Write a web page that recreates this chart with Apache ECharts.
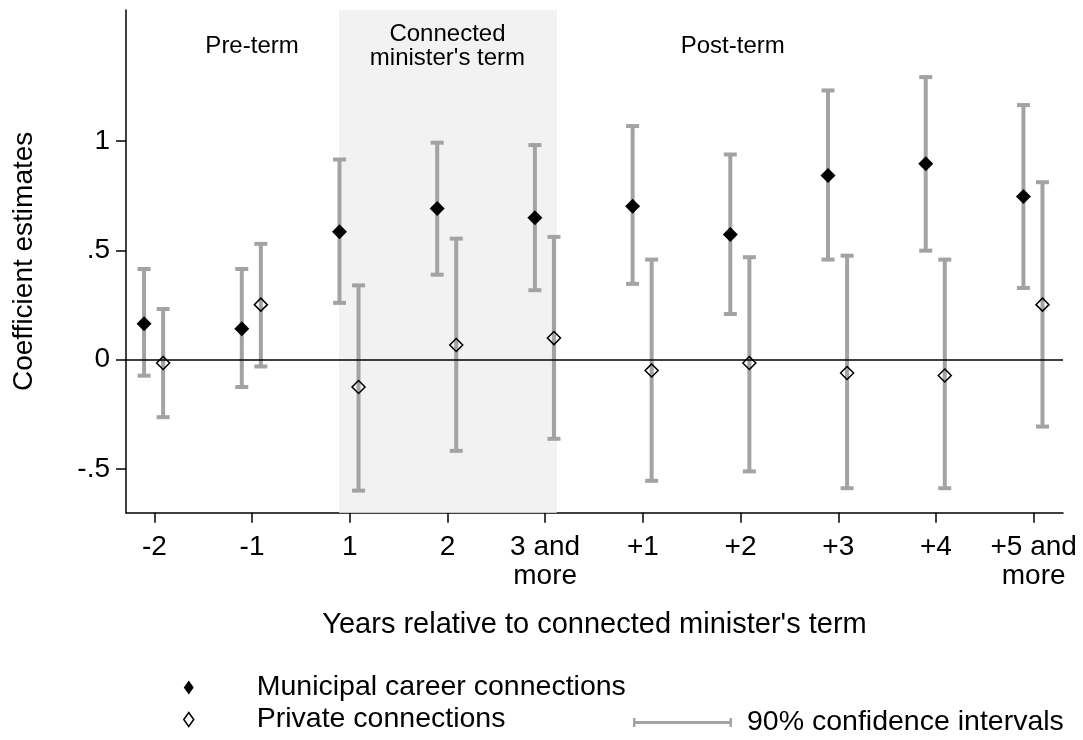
<!DOCTYPE html>
<html>
<head>
<meta charset="utf-8">
<script src="https://cdn.jsdelivr.net/npm/echarts@6/dist/echarts.min.js"></script>
<style>html,body{margin:0;padding:0;background:#fff}#c{width:1083px;height:740px}</style>
</head>
<body>
<div id="c"></div>
<script>
// ---- data ----
const categories = ['-2', '-1', '1', '2', '3 and\nmore', '+1', '+2', '+3', '+4', '+5 and\nmore'];
const municipal     = [0.165, 0.142, 0.585, 0.692, 0.649, 0.702, 0.573, 0.843, 0.896, 0.747];
const municipalLow  = [-0.073, -0.125, 0.260, 0.389, 0.318, 0.347, 0.209, 0.458, 0.499, 0.328];
const municipalHigh = [0.415, 0.415, 0.916, 0.993, 0.982, 1.069, 0.939, 1.232, 1.293, 1.165];
const privateConn     = [-0.015, 0.252, -0.125, 0.067, 0.099, -0.049, -0.015, -0.061, -0.072, 0.252];
const privateLow  = [-0.263, -0.031, -0.599, -0.417, -0.362, -0.554, -0.511, -0.588, -0.588, -0.306];
const privateHigh = [0.232, 0.530, 0.340, 0.554, 0.562, 0.458, 0.469, 0.476, 0.458, 0.812];
const yTickValues = [-0.5, 0, 0.5, 1];
const yTickLabels = ['-.5', '0', '.5', '1'];
const periodLabels = ['Pre-term', "Connected\nminister's term", 'Post-term'];
const seriesNames = ['Municipal career connections', 'Private connections', '90% confidence intervals'];
const xTitle = "Years relative to connected minister's term";
const yTitle = 'Coefficient estimates';

// ---- layout / style ----
const FONT = "'Liberation Sans', Arial, Helvetica, sans-serif";
const GRAY = '#a3a3a3';
const mOff = -0.105, pOff = 0.09;           // horizontal dodge of the two series
const termStart = 2 - 0.11, termEnd = 4 + 0.12;   // shaded "term" band
const labelY = 1.434;
const periodX = [1, 3, 5.92];

const catIdx = categories.map((_, i) => i);
const mPts = municipal.map((v, i) => [i + mOff, v]);
const pPts = privateConn.map((v, i) => [i + pOff, v]);
const mCI = municipal.map((_, i) => [i + mOff, municipalLow[i], municipalHigh[i]]);
const pCI = privateConn.map((_, i) => [i + pOff, privateLow[i], privateHigh[i]]);

function renderCI(params, api) {
  const x = api.value(0);
  const lo = api.coord([x, api.value(1)]);
  const hi = api.coord([x, api.value(2)]);
  const hw = 6.5;
  const style = { stroke: GRAY, lineWidth: 4, fill: null };
  return {
    type: 'group',
    children: [
      { type: 'line', shape: { x1: lo[0], y1: lo[1], x2: hi[0], y2: hi[1] }, style },
      { type: 'line', shape: { x1: lo[0] - hw, y1: lo[1], x2: lo[0] + hw, y2: lo[1] }, style },
      { type: 'line', shape: { x1: hi[0] - hw, y1: hi[1], x2: hi[0] + hw, y2: hi[1] }, style }
    ]
  };
}

const chart = echarts.init(document.getElementById('c'), null, { renderer: 'canvas' });
chart.setOption({
  animation: false,
  backgroundColor: '#fff',
  textStyle: { fontFamily: FONT, color: '#000' },
  grid: { left: 126, right: 20, top: 10, bottom: 227.3, outerBoundsMode: 'none', containLabel: false },
  xAxis: {
    type: 'value', min: -0.29, max: 9.3,
    name: xTitle, nameLocation: 'middle', nameGap: 98,
    nameTextStyle: { fontSize: 29, color: '#000', fontFamily: FONT, lineHeight: 29 },
    axisLine: { show: true, onZero: false, lineStyle: { color: '#000', width: 1.5 } },
    axisTick: { show: true, length: 10, customValues: catIdx, lineStyle: { color: '#000', width: 1.5 } },
    axisLabel: {
      show: true, customValues: catIdx, margin: 20,
      fontSize: 28, lineHeight: 29, color: '#000', fontFamily: FONT, align: 'center',
      formatter: v => categories[Math.round(v)]
    },
    splitLine: { show: false }
  },
  yAxis: {
    type: 'value', min: -0.7, max: 1.6,
    name: yTitle, nameLocation: 'middle', nameGap: 88, nameRotate: 90,
    nameTextStyle: { fontSize: 28, color: '#000', fontFamily: FONT },
    axisLine: { show: true, onZero: false, lineStyle: { color: '#000', width: 1.5 } },
    axisTick: { show: true, length: 10, customValues: yTickValues, lineStyle: { color: '#000', width: 1.5 } },
    axisLabel: {
      show: true, customValues: yTickValues, margin: 16,
      fontSize: 28, color: '#000', fontFamily: FONT,
      formatter: v => { const k = yTickValues.findIndex(t => Math.abs(t - v) < 1e-9); return k >= 0 ? yTickLabels[k] : ''; }
    },
    splitLine: { show: false }
  },
  legend: [
    {
      orient: 'vertical', left: 183, top: 673, itemGap: 3, padding: 0,
      itemWidth: 10, itemHeight: 14,
      textStyle: { fontSize: 28.5, lineHeight: 28, color: '#000', fontFamily: FONT, padding: [0, 0, 0, 58] },
      selectedMode: false,
      data: [
        { name: seriesNames[0], icon: 'diamond', itemStyle: { color: '#000', borderWidth: 0 } },
        { name: seriesNames[1], icon: 'diamond', itemStyle: { color: '#fff', borderColor: '#000', borderWidth: 1.5 } }
      ]
    },
    {
      orient: 'horizontal', left: 633, top: 708, padding: 0,
      itemWidth: 99, itemHeight: 10,
      textStyle: { fontSize: 28.5, lineHeight: 28, color: '#000', fontFamily: FONT, padding: [0, 0, 0, 10] },
      selectedMode: false,
      data: [
        { name: seriesNames[2], icon: 'path://M0,3.5H100V6.5H0Z M0,0.5H2.5V9.5H0Z M97.5,0.5H100V9.5H97.5Z', itemStyle: { color: GRAY, borderWidth: 0 } }
      ]
    }
  ],
  series: [
    {
      name: 'band', type: 'scatter', data: [], z: 1, silent: true,
      markArea: {
        silent: true,
        itemStyle: { color: '#f2f2f2' },
        data: [[{ xAxis: termStart, yAxis: -0.7 }, { xAxis: termEnd, yAxis: 1.6 }]]
      },
      markPoint: {
        silent: true, symbol: 'circle', symbolSize: 1,
        itemStyle: { color: 'rgba(0,0,0,0)' },
        label: { show: true, position: 'inside', formatter: '{b}', fontSize: 24, lineHeight: 24, color: '#000', fontFamily: FONT },
        data: periodLabels.map((t, i) => ({ name: t, coord: [periodX[i], labelY] }))
      }
    },
    {
      name: seriesNames[2], type: 'custom', renderItem: renderCI, data: mCI, z: 2,
      encode: { x: 0, y: [1, 2] }, itemStyle: { color: GRAY }, silent: true
    },
    {
      name: seriesNames[2], type: 'custom', renderItem: renderCI, data: pCI, z: 2,
      encode: { x: 0, y: [1, 2] }, itemStyle: { color: GRAY }, silent: true
    },
    {
      name: 'zero', type: 'scatter', data: [], z: 3, silent: true,
      markLine: {
        silent: true, symbol: ['none', 'none'],
        lineStyle: { color: '#000', width: 1.5, type: 'solid' },
        label: { show: false },
        data: [{ yAxis: 0 }]
      }
    },
    {
      name: seriesNames[0], type: 'scatter', data: mPts, z: 4,
      symbol: 'diamond', symbolSize: [15, 15],
      itemStyle: { color: '#000', opacity: 1 }
    },
    {
      name: seriesNames[1], type: 'scatter', data: pPts, z: 4,
      symbol: 'diamond', symbolSize: [13, 13],
      itemStyle: { color: 'rgba(255,255,255,0)', borderColor: '#000', borderWidth: 1.5, opacity: 1 }
    }
  ]
});
</script>
</body>
</html>
